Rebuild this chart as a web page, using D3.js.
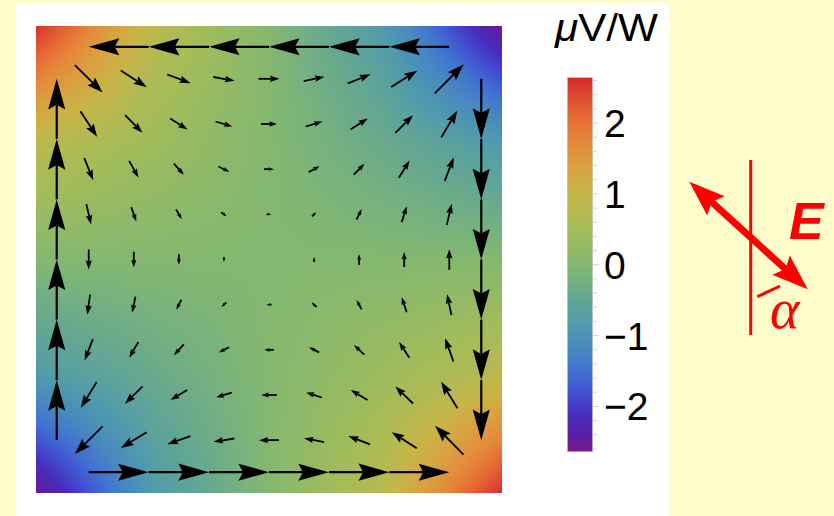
<!DOCTYPE html>
<html><head><meta charset="utf-8">
<script src="https://cdn.jsdelivr.net/npm/d3@7"></script>
<style>html,body{margin:0;padding:0;background:#fffdcc;} svg{display:block;}</style>
</head><body><svg id="c" width="834" height="516"></svg>
<script>
// ---------------- data ----------------
const gridX = [-4, -3, -2, -1, 0, 1, 2, 3, 4];
const gridY = [4, 3, 2, 1, 0, -1, -2, -3, -4];
// vector components (rightward u, upward v), rows top->bottom, cols left->right
const vecU = [
  [2.77, 2.60, 2.33, 2.13, 2.10, 2.07, 2.27, 2.60, 2.90],
  [1.67, 1.73, 1.73, 1.67, 1.60, 1.67, 1.73, 1.77, 1.60],
  [0.90, 0.93, 1.00, 1.10, 1.00, 1.10, 1.07, 1.07, 0.90],
  [0.47, 0.50, 0.57, 0.53, 0.47, 0.43, 0.53, 0.50, 0.50],
  [0, 0, 0, 0, 0, 0, 0, 0, 0],
  [-0.27, -0.33, -0.50, -0.50, -0.50, -0.50, -0.50, -0.50, -0.43],
  [-0.83, -0.90, -1.00, -1.03, -0.97, -1.00, -1.03, -1.03, -0.83],
  [-1.57, -1.77, -1.67, -1.57, -1.57, -1.57, -1.67, -1.77, -1.63],
  [-2.77, -2.57, -2.30, -2.07, -2.00, -2.00, -2.17, -2.50, -2.83]
];
const vecV = [
  [-2.73, -1.67, -0.87, -0.37, 0, 0.44, 0.90, 1.63, 2.90],
  [-2.57, -1.77, -1.10, -0.50, 0, 0.50, 1.10, 1.77, 2.67],
  [-2.23, -1.67, -1.10, -0.53, 0, 0.60, 1.07, 1.73, 2.33],
  [-2.03, -1.43, -1.00, -0.43, 0, 0.40, 1.07, 1.60, 2.10],
  [-2.00, -1.56, -1.07, -0.50, 0, 0.50, 1.07, 1.50, 2.07],
  [-2.00, -1.60, -1.00, -0.47, 0, 0.47, 0.93, 1.50, 2.07],
  [-2.13, -1.57, -1.07, -0.53, 0, 0.50, 0.97, 1.57, 2.33],
  [-2.57, -1.73, -1.00, -0.47, 0, 0.50, 1.00, 1.70, 2.67],
  [-2.77, -1.57, -0.80, -0.33, 0, 0.40, 0.83, 1.60, 2.90]
];
// edge current arrows: stop positions along each edge and edge offset
const edgeStops = [-4, -2.67, -1.33, 0, 1.33, 2.67, 4];
const edgeOffset = 4.71;
// colour field samples (µV/W) on a 5x5 grid, rows top->bottom
const fieldPos = [-5.17, -2.585, 0, 2.585, 5.17];
const fieldVals = [
  [2.6, 0.85, 0, -0.85, -2.6],
  [0.85, 0.4, 0, -0.4, -0.85],
  [0, 0, 0, 0, 0],
  [-0.85, -0.4, 0, 0.4, 0.85],
  [-2.6, -0.85, 0, 0.85, 2.6]
];
// colour bar
const cbDomain = [-2.64, 2.64];
const cbTicks = [-2, -1, 0, 1, 2];
const cbMinor = [-2.6,-2.4,-2.2,-2.0,-1.8,-1.6,-1.4,-1.2,-1.0,-0.8,-0.6,-0.4,-0.2,0,0.2,0.4,0.6,0.8,1.0,1.2,1.4,1.6,1.8,2.0,2.2,2.4,2.6];
const colorVals = [-2.64,-2.4,-2.1,-1.8,-1.5,-1.2,-0.9,-0.5,0,0.5,1.0,1.4,1.8,2.1,2.4,2.64];
const colorHex = ["#7a1a8a","#5a1ea6","#4630c0","#4152d2","#4272d0","#4888c0","#4e98b0","#62a694","#84b870","#a4bc58","#c6b648","#daa03e","#e6843a","#e46834","#dc4830","#d42828"];

// ---------------- drawing ----------------
const svg = d3.select("#c");
svg.append("rect").attr("x",0).attr("y",0).attr("width",834).attr("height",516).attr("fill","#fffdcc");
svg.append("rect").attr("x",16).attr("y",3).attr("width",653).attr("height",513).attr("fill","#ffffff");

const x = d3.scaleLinear().domain([-5.17, 5.17]).range([36, 502]);
const y = d3.scaleLinear().domain([-5.17, 5.17]).range([493, 26]);
const color = d3.scaleLinear().domain(colorVals).range(colorHex).interpolate(d3.interpolateRgb).clamp(true);
const vlen = d3.scaleLinear().domain([0, 1]).range([0, 10]);

// heat map via canvas image
const W = Math.round(x.range()[1]-x.range()[0]), H = Math.round(y.range()[0]-y.range()[1]);
const cv = document.createElement("canvas"); cv.width = W; cv.height = H;
const ctx = cv.getContext("2d"); const img = ctx.createImageData(W, H);
const fx = d3.scaleLinear().domain(fieldPos).range([0,1,2,3,4]);
const fy = d3.scaleLinear().domain(fieldPos.slice().reverse()).range([0,1,2,3,4]);
function field(px, py) {
  let gx = Math.max(0, Math.min(3.9999, fx(px)));
  let gy = Math.max(0, Math.min(3.9999, fy(py)));
  const i = Math.floor(gx), j = Math.floor(gy), s = gx - i, t = gy - j;
  const a = fieldVals[j][i], b = fieldVals[j][i+1], c = fieldVals[j+1][i], d = fieldVals[j+1][i+1];
  return a*(1-s)*(1-t) + b*s*(1-t) + c*(1-s)*t + d*s*t;
}
for (let r = 0; r < H; r++) {
  for (let q = 0; q < W; q++) {
    const v = field(x.invert(x.range()[0]+q+0.5), y.invert(y.range()[1]+r+0.5));
    const col = d3.rgb(color(v));
    const k = (r*W+q)*4;
    img.data[k]=col.r; img.data[k+1]=col.g; img.data[k+2]=col.b; img.data[k+3]=255;
  }
}
ctx.putImageData(img, 0, 0);
svg.append("image").attr("x", x.range()[0]).attr("y", y.range()[1]).attr("width", W).attr("height", H)
  .attr("href", cv.toDataURL());

function arrow(g, x0, y0, x1, y1, hl, widthFrac, sw) {
  const dx = x1-x0, dy = y1-y0, L = Math.hypot(dx, dy);
  if (L < 0.5) return;
  hl = Math.min(hl, L);
  const ux = dx/L, uy = dy/L, px = -uy, py = ux;
  const hw = widthFrac*hl/2, notch = 0.15*hl;
  const bx = x1-ux*hl, by = y1-uy*hl;
  g.append("line").attr("x1",x0).attr("y1",y0).attr("x2",x1-ux*(hl-notch)).attr("y2",y1-uy*(hl-notch))
    .attr("stroke","#000").attr("stroke-width",sw);
  g.append("path").attr("d", `M${x1},${y1}L${bx+px*hw},${by+py*hw}L${x1-ux*(hl-notch)},${y1-uy*(hl-notch)}L${bx-px*hw},${by-py*hw}Z`)
    .attr("fill","#000");
}

const ga = svg.append("g");
gridY.forEach((gyv, r) => {
  gridX.forEach((gxv, c) => {
    const cx = x(gxv), cy = y(gyv);
    const dx = vlen(vecU[r][c]), dy = -vlen(vecV[r][c]);
    const L = Math.hypot(dx, dy);
    arrow(ga, cx-dx/2, cy-dy/2, cx+dx/2, cy+dy/2, 2 + 0.36*L, 0.68, 1.8);
  });
});
// edge arrows
for (let k = 0; k < edgeStops.length-1; k++) {
  const a = edgeStops[k], b = edgeStops[k+1];
  const hl = 0.51*(x(b)-x(a));
  arrow(ga, x(b), y(edgeOffset), x(a), y(edgeOffset), hl, 0.56, 2.2);
  arrow(ga, x(a), y(-edgeOffset), x(b), y(-edgeOffset), hl, 0.56, 2.2);
  arrow(ga, x(-edgeOffset), y(a), x(-edgeOffset), y(b), hl, 0.56, 2.2);
  arrow(ga, x(edgeOffset), y(b), x(edgeOffset), y(a), hl, 0.56, 2.2);
}

// colour bar
const cy = d3.scaleLinear().domain(cbDomain).range([451.7, 77.7]);
const defs = svg.append("defs");
const grad = defs.append("linearGradient").attr("id","cbg").attr("x1",0).attr("y1",1).attr("x2",0).attr("y2",0);
colorVals.forEach((v,i) => grad.append("stop").attr("offset", (v-cbDomain[0])/(cbDomain[1]-cbDomain[0])).attr("stop-color", colorHex[i]));
svg.append("rect").attr("x",567.5).attr("y",cy(cbDomain[1])).attr("width",25).attr("height",cy(cbDomain[0])-cy(cbDomain[1]))
  .attr("fill","url(#cbg)").attr("stroke","#b8b8b8").attr("stroke-width",0.6);
svg.append("g").selectAll("line").data(cbMinor).join("line")
  .attr("x1",593).attr("x2",d => cbTicks.includes(Math.round(d*10)/10) ? 599 : 597)
  .attr("y1",d=>cy(d)).attr("y2",d=>cy(d)).attr("stroke","#c8c8c8").attr("stroke-width",0.8);
svg.append("g").selectAll("text").data(cbTicks).join("text")
  .attr("x",604).attr("y",d=>cy(d)+14)
  .attr("font-family","Liberation Sans, Arial, sans-serif").attr("font-size",39).attr("fill","#000")
  .text(d => d3.format("d")(d));
const title = svg.append("text").attr("x",555).attr("y",41).attr("font-family","Liberation Sans, Arial, sans-serif")
  .attr("font-size",38).attr("fill","#000").attr("textLength",103).attr("lengthAdjust","spacingAndGlyphs");
title.append("tspan").attr("font-style","italic").text("μ");
title.append("tspan").text("V/W");

// polarisation annotation
const red = "#ff0000";
const an = svg.append("g");
an.append("line").attr("x1",750.7).attr("y1",160).attr("x2",750.7).attr("y2",335).attr("stroke",red).attr("stroke-width",3);
function redHead(tx, ty, ux, uy) {
  const hl = 36, hw = 13, notch = 6;
  const bx = tx-ux*hl, by = ty-uy*hl, px=-uy, py=ux;
  an.append("path").attr("d",`M${tx},${ty}L${bx+px*hw},${by+py*hw}L${tx-ux*(hl-notch)},${ty-uy*(hl-notch)}L${bx-px*hw},${by-py*hw}Z`).attr("fill",red);
}
{
  const x0=689.3,y0=181.7,x1=807.7,y1=289.3, L=Math.hypot(x1-x0,y1-y0), ux=(x1-x0)/L, uy=(y1-y0)/L;
  an.append("line").attr("x1",x0+ux*28).attr("y1",y0+uy*28).attr("x2",x1-ux*28).attr("y2",y1-uy*28).attr("stroke",red).attr("stroke-width",7);
  redHead(x1,y1,ux,uy); redHead(x0,y0,-ux,-uy);
}
an.append("line").attr("x1",757.3).attr("y1",296.7).attr("x2",780).attr("y2",286).attr("stroke",red).attr("stroke-width",3);
an.append("text").attr("x",789).attr("y",239).attr("font-family","Liberation Sans, Arial, sans-serif").attr("font-weight","bold")
  .attr("font-style","italic").attr("font-size",52).attr("fill",red).text("E");
an.append("text").attr("x",770).attr("y",328).attr("font-family","Liberation Serif, serif")
  .attr("font-style","italic").attr("font-size",56).attr("fill",red).text("α");
</script></body></html>
